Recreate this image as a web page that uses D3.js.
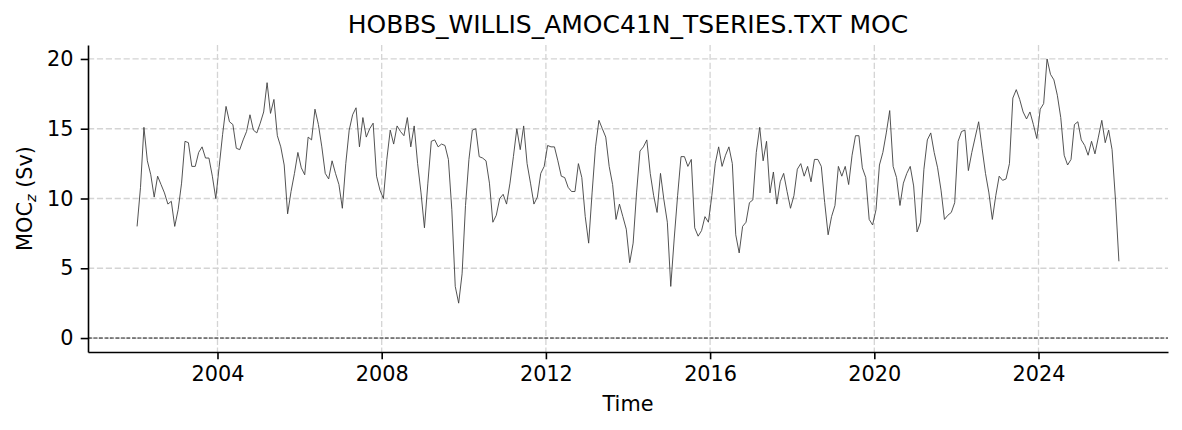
<!DOCTYPE html>
<html>
<head>
<meta charset="utf-8">
<script src="https://cdn.jsdelivr.net/npm/d3@7"></script>
<style>
  body { margin: 0; background: #fff; }
  #graphicContainer { width: 1182px; height: 430px; }
  text { font-family: "DejaVu Sans", sans-serif; fill: #000; }
</style>
</head>
<body>
<div id="graphicContainer"></div>
<script>

// monthly MOC (Sv), Jan 2002 .. Dec 2025
var startYear = 2002;
var moc = [
    8.0, 10.8, 15.1, 12.7, 11.7, 10.1, 11.6, 11.0, 10.4, 9.6, 9.8, 8.0,      // 2002
    9.2, 11.1, 14.1, 14.0, 12.3, 12.3, 13.3, 13.7, 12.9, 12.9, 11.6, 10.0,   // 2003
    12.3, 14.6, 16.6, 15.5, 15.3, 13.6, 13.5, 14.2, 14.8, 16.0, 14.9, 14.7,  // 2004
    15.4, 16.2, 18.3, 16.1, 17.1, 14.5, 13.7, 12.4, 8.9, 10.5, 11.8, 13.3,   // 2005
    12.2, 11.7, 14.4, 14.2, 16.4, 15.3, 13.7, 11.8, 11.4, 12.7, 11.8, 11.0,  // 2006
    9.3, 12.5, 14.9, 16.0, 16.5, 13.7, 15.8, 14.4, 15.0, 15.4, 11.6, 10.6,   // 2007
    10.0, 12.8, 14.9, 13.9, 15.2, 14.8, 14.5, 15.8, 13.7, 15.2, 12.5, 10.4,  // 2008
    7.9, 11.1, 14.1, 14.2, 13.7, 13.9, 13.8, 12.8, 9.2, 3.7, 2.5, 4.6,       // 2009
    9.5, 12.8, 14.9, 15.0, 13.0, 12.9, 12.7, 11.1, 8.3, 8.8, 10.0, 10.3,     // 2010
    9.6, 11.1, 13.0, 15.0, 13.5, 15.2, 12.5, 11.1, 9.6, 10.1, 11.8, 12.3,    // 2011
    13.8, 13.7, 13.7, 12.7, 11.6, 11.5, 10.8, 10.5, 10.5, 12.5, 11.5, 8.7,   // 2012
    6.8, 10.4, 13.7, 15.6, 15.0, 14.4, 12.3, 11.0, 8.5, 9.6, 8.7, 7.8,       // 2013
    5.4, 6.8, 10.4, 13.4, 13.7, 14.2, 11.8, 10.2, 9.0, 11.8, 9.9, 8.3,       // 2014
    3.7, 7.1, 10.2, 13.0, 13.0, 12.3, 12.8, 7.9, 7.3, 7.7, 8.7, 8.3,         // 2015
    10.2, 12.5, 13.7, 12.3, 13.1, 13.7, 12.5, 7.4, 6.1, 8.0, 8.3, 9.7,       // 2016
    9.9, 13.3, 15.1, 12.7, 14.1, 10.4, 11.9, 9.6, 11.2, 11.8, 10.5, 9.3,     // 2017
    10.2, 12.1, 12.5, 11.6, 12.3, 11.2, 12.8, 12.8, 12.3, 9.7, 7.4, 8.7,     // 2018
    9.5, 12.3, 11.6, 12.3, 11.0, 13.1, 14.5, 14.5, 12.2, 11.5, 8.5, 8.1,     // 2019
    9.2, 12.4, 13.3, 14.7, 16.3, 12.3, 11.5, 9.5, 11.1, 11.8, 12.3, 10.9,    // 2020
    7.6, 8.3, 12.1, 14.2, 14.7, 13.3, 12.2, 10.6, 8.5, 8.8, 9.0, 9.7,        // 2021
    14.1, 14.8, 14.9, 12.0, 13.3, 14.4, 15.5, 13.6, 11.8, 10.4, 8.5, 10.2,   // 2022
    11.6, 11.3, 11.4, 12.5, 17.2, 17.8, 17.1, 16.2, 15.7, 16.2, 15.3, 14.3,  // 2023
    16.4, 16.8, 20.0, 18.9, 18.5, 17.4, 15.8, 13.1, 12.4, 12.8, 15.3, 15.5,  // 2024
    14.2, 13.8, 13.1, 14.1, 13.2, 14.4, 15.6, 14.0, 14.9, 13.5, 9.9, 5.5     // 2025
];
var xTicks = [2004, 2008, 2012, 2016, 2020, 2024];
var yTicks = [0, 5, 10, 15, 20];

var target = "#graphicContainer";

function makeChart() {

    var width = 1182, height = 430;
    var margin = {top: 45, right: 14, bottom: 78, left: 88};
    var w = width - margin.left - margin.right,
        h = height - margin.top - margin.bottom;

    d3.select(target + " svg").remove();

    var svg = d3.select(target).append("svg")
        .attr("width", width)
        .attr("height", height);

    var g = svg.append("g")
        .attr("transform", "translate(" + margin.left + "," + margin.top + ")");

    // decimal year at mid-month
    var data = moc.map(function(v, i) {
        return {t: startYear + (i + 0.5) / 12, v: v};
    });

    // matplotlib style 5% padding on x, y goes -1..21
    var t0 = data[0].t, t1 = data[data.length - 1].t, pad = (t1 - t0) * 0.05;
    var x = d3.scaleLinear().domain([t0 - pad, t1 + pad]).range([0, w]);
    var y = d3.scaleLinear().domain([-1, 21]).range([h, 0]);

    // grid
    g.append("g").selectAll("line").data(xTicks).enter().append("line")
        .attr("x1", d => x(d)).attr("x2", d => x(d))
        .attr("y1", 0).attr("y2", h)
        .attr("stroke", "#d4d4d4").attr("stroke-width", 1.3)
        .attr("stroke-dasharray", "6.2,2.7");

    g.append("g").selectAll("line").data(yTicks).enter().append("line")
        .attr("x1", 0).attr("x2", w)
        .attr("y1", d => y(d)).attr("y2", d => y(d))
        .attr("stroke", "#d4d4d4").attr("stroke-width", 1.3)
        .attr("stroke-dasharray", "6.2,2.7");

    // zero line
    g.append("line")
        .attr("x1", 0).attr("x2", w)
        .attr("y1", y(0)).attr("y2", y(0))
        .attr("stroke", "#000").attr("stroke-width", 0.9)
        .attr("stroke-dasharray", "3.8,1.7");

    var line = d3.line().x(d => x(d.t)).y(d => y(d.v));

    g.append("path")
        .datum(data)
        .attr("fill", "none")
        .attr("stroke", "#404040")
        .attr("stroke-width", 0.9)
        .attr("d", line);

    // axes
    var xAxis = g.append("g")
        .attr("transform", "translate(0," + h + ")")
        .call(d3.axisBottom(x).tickValues(xTicks).tickFormat(d3.format("d"))
            .tickSize(7.3).tickPadding(7.3).tickSizeOuter(0));

    var yAxis = g.append("g")
        .call(d3.axisLeft(y).tickValues(yTicks).tickFormat(d3.format("d"))
            .tickSize(7.3).tickPadding(7.3).tickSizeOuter(0));

    [xAxis, yAxis].forEach(function(a) {
        a.select(".domain").attr("stroke", "#000").attr("stroke-width", 1.6);
        a.selectAll(".tick line").attr("stroke", "#000").attr("stroke-width", 1.6);
        a.selectAll(".tick text")
            .attr("font-family", "DejaVu Sans")
            .attr("font-size", "20.8px")
            .attr("fill", "#000");
    });

    // titles
    svg.append("text")
        .attr("x", margin.left + w / 2)
        .attr("y", 33)
        .attr("text-anchor", "middle")
        .attr("font-size", "25px")
        .text("HOBBS_WILLIS_AMOC41N_TSERIES.TXT MOC");

    svg.append("text")
        .attr("x", margin.left + w / 2)
        .attr("y", 411)
        .attr("text-anchor", "middle")
        .attr("font-size", "20.8px")
        .text("Time");

    var yl = svg.append("text")
        .attr("transform", "translate(32," + (margin.top + h / 2) + ") rotate(-90)")
        .attr("text-anchor", "middle")
        .attr("font-size", "20.8px");
    yl.append("tspan").text("MOC");
    yl.append("tspan")
        .attr("baseline-shift", "-25%")
        .attr("font-size", "14.5px")
        .attr("font-style", "italic")
        .text("z");
    yl.append("tspan").text(" (Sv)");
}

makeChart();

</script>
</body>
</html>
